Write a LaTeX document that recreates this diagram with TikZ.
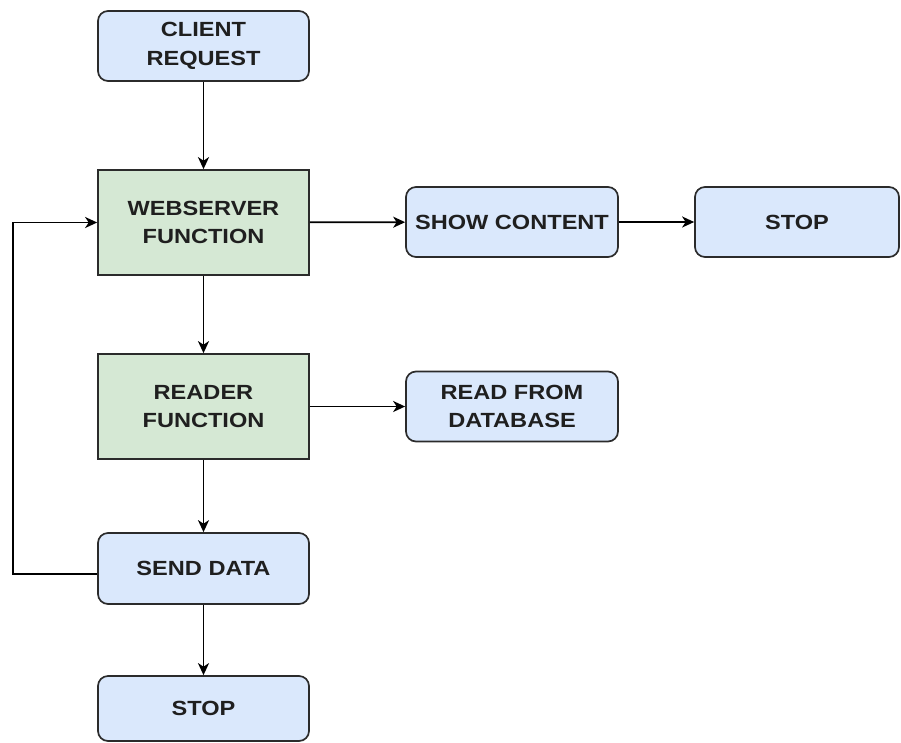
\documentclass[tikz,border=0pt]{standalone}
\usepackage{fontspec}
\newfontfamily\boxfont{Liberation Sans}[FakeStretch=1.15]
\usetikzlibrary{arrows.meta}
\definecolor{bluefill}{HTML}{DAE8FC}
\definecolor{greenfill}{HTML}{D5E8D4}
\definecolor{edgec}{HTML}{2B2B2B}
\tikzset{
  base/.style={draw=edgec, line width=1.7pt, inner sep=0pt, align=center,
    font=\boxfont\bfseries\fontsize{20.5}{28.5}\selectfont, text=black!88},
  bluebox/.style={base, fill=bluefill, rounded corners=10pt},
  greenbox/.style={base, fill=greenfill},
  conn/.style={draw=black, line width=1.8pt, -{Stealth[length=12pt,width=11pt,inset=3.5pt]}}
}
\begin{document}
\begin{tikzpicture}[x=1pt,y=-1pt]
\useasboundingbox (0,0) rectangle (901,742);
\node[bluebox, minimum width=211pt, minimum height=70pt] (cr) at (203.5,46) {CLIENT\\REQUEST};
\node[greenbox, minimum width=211pt, minimum height=105pt] (ws) at (203.5,222.5) {WEBSERVER\\FUNCTION};
\node[bluebox, minimum width=212pt, minimum height=70pt] (sc) at (512,222) {SHOW CONTENT};
\node[bluebox, minimum width=204pt, minimum height=70pt] (st1) at (797,222) {STOP};
\node[greenbox, minimum width=211pt, minimum height=105pt] (rf) at (203.5,406.5) {READER\\FUNCTION};
\node[bluebox, minimum width=212pt, minimum height=70pt] (rd) at (512,406.5) {READ FROM\\DATABASE};
\node[bluebox, minimum width=211pt, minimum height=71pt] (sd) at (203.5,568.5) {SEND DATA};
\node[bluebox, minimum width=211pt, minimum height=65pt] (st2) at (203.5,708.5) {STOP};
\coordinate (lp) at (13,574);
\draw[conn] (cr) -- (ws);
\draw[conn] (ws) -- (sc);
\draw[conn] (sc) -- (st1);
\draw[conn] (ws) -- (rf);
\draw[conn] (rf) -- (rd);
\draw[conn] (rf) -- (sd);
\draw[conn] (sd) -- (st2);
\draw[conn] (sd.west |- lp) -- (lp) |- (ws.west);
\end{tikzpicture}
\end{document}
